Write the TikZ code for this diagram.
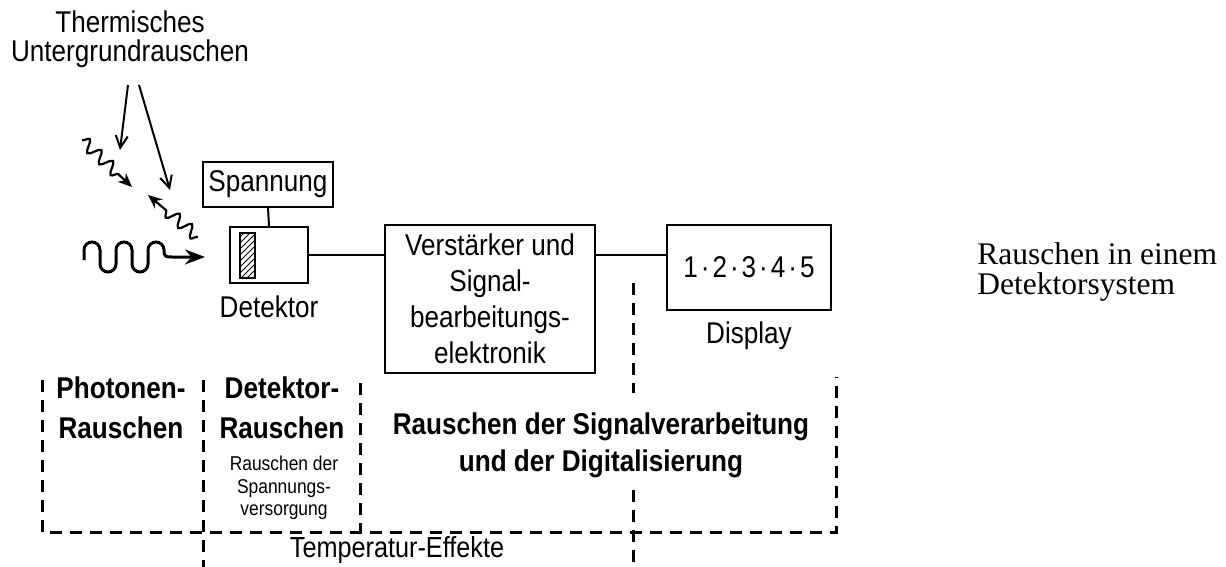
\documentclass[tikz,border=0pt]{standalone}
\usepackage{fontspec}
\setmainfont{Liberation Sans}[FakeStretch=0.87]
\newfontfamily\serifcap{Liberation Serif}
\usetikzlibrary{arrows.meta, positioning, calc, patterns, decorations.pathmorphing}
\tikzset{
  blockbox/.style={draw, line width=1pt, align=center, inner sep=0pt},
  grenze/.style={line width=1.5pt, dash pattern=on 6pt off 4pt},
  photon/.style={line width=1.1pt, decorate,
    decoration={snake, amplitude=3pt, segment length=8pt, post length=8pt},
    -{Stealth[length=7pt,width=6pt]}},
  hinweis/.style={line width=1pt, -{Straight Barb[length=6pt,width=6pt]}},
  normaltxt/.style={font=\fontsize{15}{18}\selectfont, align=center, inner sep=0pt},
  fetttxt/.style={font=\fontsize{15}{20}\selectfont\bfseries, align=center, inner sep=0pt},
}

\begin{document}
\begin{tikzpicture}[x=0.5pt, y=-0.5pt]
    \useasboundingbox (0,0) rectangle (1226,567);
    % Thermisches Rauschen
    \node[normaltxt, font=\fontsize{15}{14.5}\selectfont] (thermo) at (130,39) {Thermisches\\Untergrundrauschen};
    \coordinate (th1) at (128,85);
    \coordinate (th2) at (139,85);
    \coordinate (pa) at (120,150);
    \coordinate (pb) at (170,190);
    \draw[hinweis] (th1) -- (pa);
    \draw[hinweis] (th2) -- (pb);
    % Photonen
    \coordinate (p1s) at (82,140);
    \coordinate (p1e) at (132,187);
    \coordinate (p2s) at (198,237);
    \coordinate (p2e) at (148,195);
    \draw[photon] (p1s) -- (p1e);
    \draw[photon] (p2s) -- (p2e);
    \coordinate (wend) at (205,257);
    \draw[line width=1.5pt, -{Stealth[length=10pt,width=7.5pt]}]
      (84,260) -- (84,250) arc[start angle=180, end angle=360, radius=8]
      -- (100,264) arc[start angle=180, end angle=0, radius=8]
      -- (116,250) arc[start angle=180, end angle=360, radius=8]
      -- (132,264) arc[start angle=180, end angle=0, radius=8]
      -- (148,250) arc[start angle=180, end angle=360, radius=8]
      .. controls (164,257) and (166,257) .. (172,257) -- (wend);
    % Bloecke
    \node[blockbox, minimum width=65pt, minimum height=22.5pt, normaltxt] (spannung) at (268,184.5) {Spannung};
    \node[blockbox, minimum width=39pt, minimum height=28pt] (detektor) at (269,255) {};
    \node[draw, line width=1pt, pattern=north east lines, minimum width=7.5pt, minimum height=22.5pt, inner sep=0pt] (hatch) at (247.5,255.5) {};
    \node[normaltxt] (detlabel) at (269,307) {Detektor};
    \node[blockbox, minimum width=105pt, minimum height=74pt, normaltxt] (verst) at (490,299) {Verstärker und\\Signal-\\bearbeitungs-\\elektronik};
    \node[blockbox, minimum width=82pt, minimum height=42.5pt, normaltxt] (display) at (749,267.5) {1\hspace{1.5pt}·\hspace{1.5pt}2\hspace{1.5pt}·\hspace{1.5pt}3\hspace{1.5pt}·\hspace{1.5pt}4\hspace{1.5pt}·\hspace{1.5pt}5};
    \node[normaltxt] (displabel) at (749,336) {Display};
    % Verbindungen
    \draw[line width=1pt] (spannung.south) -- (detektor.north);
    \draw[line width=1pt] (detektor.east) -- (detektor.east -| verst.west);
    \draw[line width=1pt] (detektor.east -| verst.east) -- (detektor.east -| display.west);
    % Rauschquellen
    \draw[grenze] (42,380) |- (836,532) -- (836,377);
    \draw[grenze] (203,380) -- (203,567);
    \draw[grenze] (360,383) -- (360,532);
    \draw[grenze] (633,283) -- (633,393);
    \draw[grenze] (633,490) -- (633,567);
    \node[fetttxt] (photo) at (121,408) {Photonen-\\Rauschen};
    \node[fetttxt] (detrausch) at (282,408) {Detektor-\\Rauschen};
    \node[normaltxt, font=\fontsize{10}{11.25}\selectfont] (versorg) at (284,488) {Rauschen der\\Spannungs-\\versorgung};
    \node[fetttxt, font=\fontsize{15}{18.5}\selectfont\bfseries] (signal) at (601,445) {Rauschen der Signalverarbeitung\\und der Digitalisierung};
    \node[normaltxt, font=\fontsize{14.5}{18}\selectfont] (temp) at (397,550) {Temperatur-Effekte};
    % Bildunterschrift
    \node[anchor=west, align=left, inner sep=0pt, font=\serifcap\fontsize{15.75}{15}\selectfont] (titel) at (977,272) {Rauschen in einem\\Detektorsystem};
\end{tikzpicture}
\end{document}
